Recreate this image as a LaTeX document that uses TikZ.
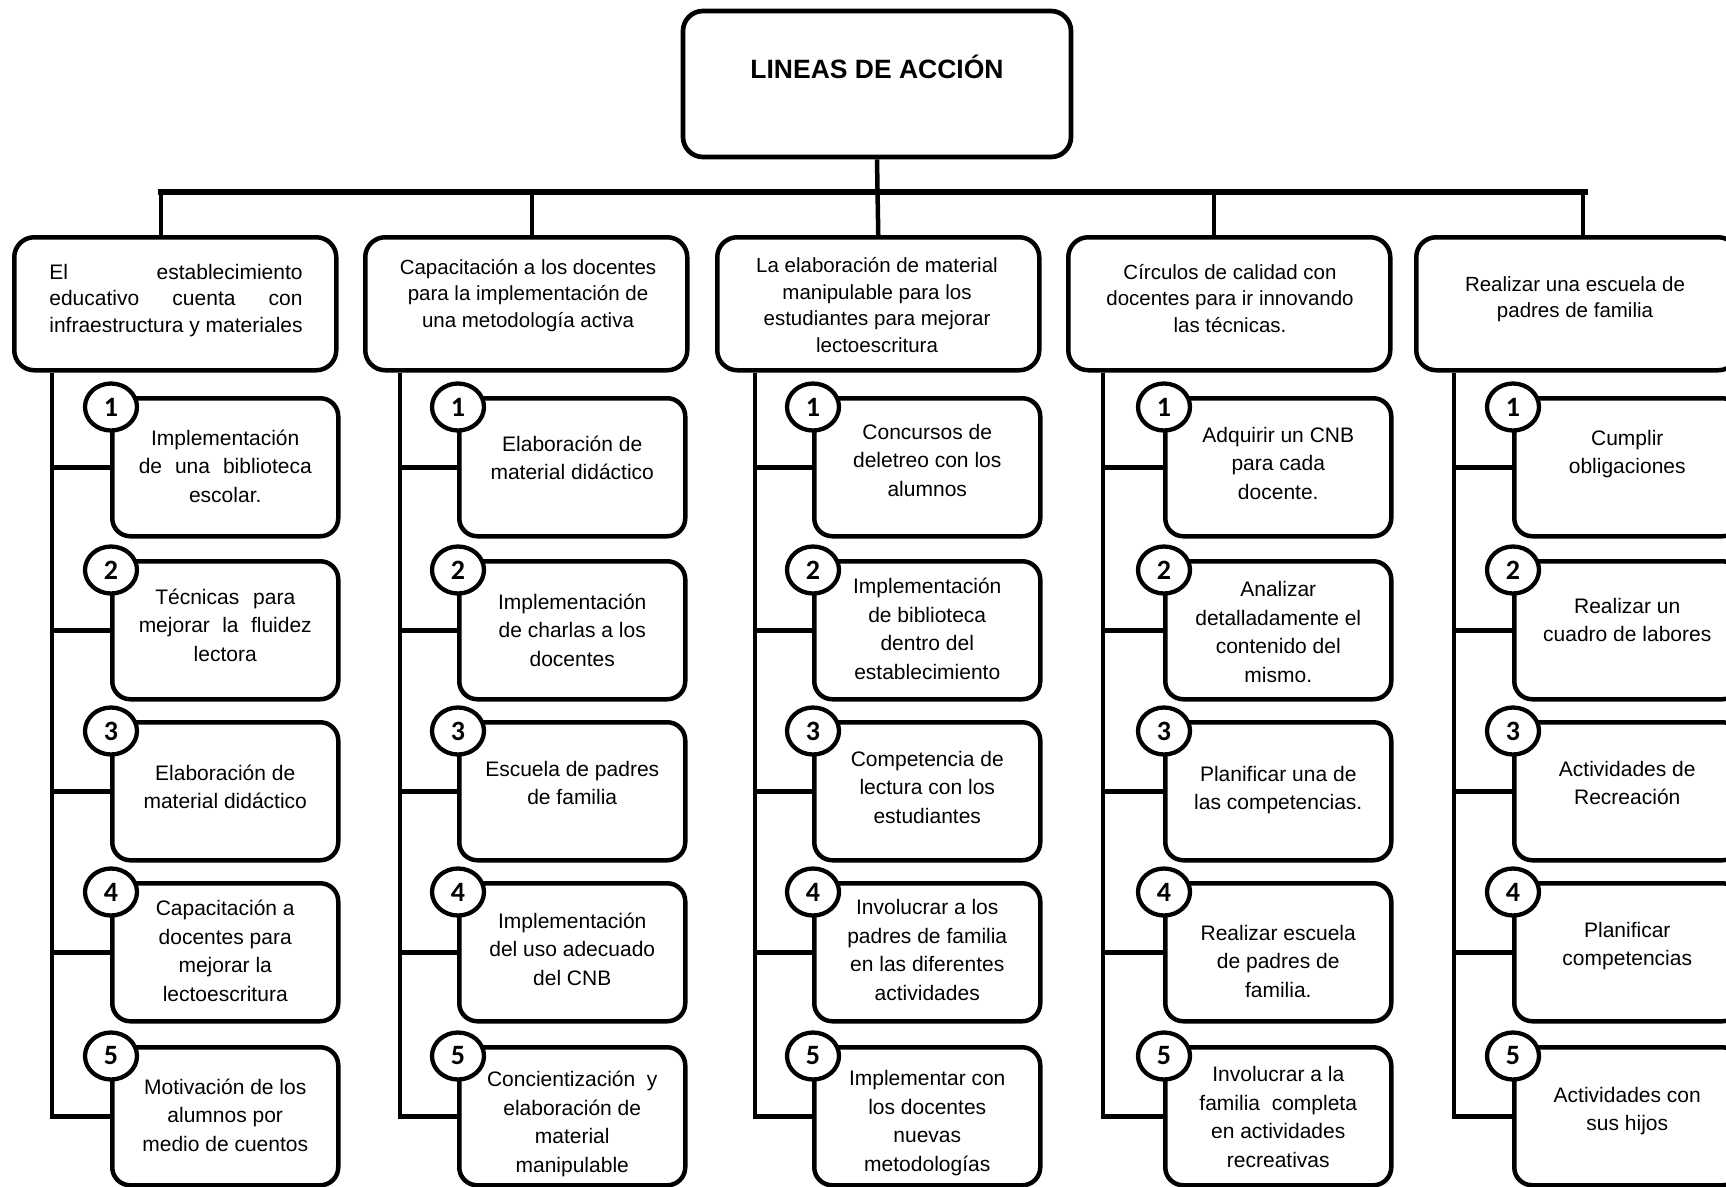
\documentclass[tikz,border=0pt]{standalone}
\usepackage{fontspec}
\setmainfont{Liberation Sans}
\newfontfamily\numfont{Carlito}
\usetikzlibrary{shapes.geometric,calc}
\newlength\hwa
\tikzset{
  conn/.style={line width=4.5pt},
  mainbar/.style={line width=6pt},
  childbox/.style={draw, line width=4.5pt, rounded corners=18pt, minimum width=226pt, minimum height=138pt, inner sep=0pt, anchor=north west},
  hdrbox/.style={draw, line width=4.5pt, rounded corners=20pt, minimum width=322pt, minimum height=133pt, inner sep=0pt, anchor=north west},
  topbox/.style={draw, line width=4.7pt, rounded corners=20pt, minimum width=388pt, minimum height=146pt, inner sep=0pt},
  numc/.style={draw, fill=white, ellipse, line width=4.3pt, minimum width=52pt, minimum height=47pt, inner sep=0pt, font=\numfont\bfseries\fontsize{28}{28}\selectfont},
  txt/.style={align=center, font=\fontsize{21}{28.5}\selectfont, inner sep=0pt, execute at begin node=\strut, execute at end node=\strut},
  htxt/.style={align=center, font=\fontsize{20.5}{26.5}\selectfont, inner sep=0pt, execute at begin node=\strut, execute at end node=\strut},
  ttl/.style={font=\bfseries\fontsize{26.5}{30}\selectfont, anchor=base, inner sep=0pt},
}
% #1 col, #2 row, #3 left x, #4 top y, #5 text dy, #6 text
\newcommand\mkchild[6]{%
  \node[childbox] (c#1#2) at (#3,#4) {};
  \node[numc] (n#1#2) at ($(c#1#2.north west)+(1,11)$) {#2};
  \node[txt] (t#1#2) at ($(c#1#2.center)+(0,#5)$) {#6};
}
\begin{document}
\settowidth{\hwa}{\fontsize{21}{26.5}\selectfont infraestructura y materiales}%
\begin{tikzpicture}[x=1pt,y=-1pt]
\path[use as bounding box] (0,0) rectangle (1726,1186);
\clip (0,0) rectangle (1726,1186);

% top
\node[topbox] (top) at (877,84) {};
\node[ttl] (title) at (877,78) {LINEAS DE ACCIÓN};

% bar
\coordinate (barL) at (158,192);
\coordinate (barR) at (1588,192);
\draw[mainbar] (barL) -- (barR);

% headers
\node[hdrbox] (h1) at (12,235) {};
\node[hdrbox] (h2) at (363,235) {};
\node[hdrbox] (h3) at (715,235) {};
\node[hdrbox] (h4) at (1066,235) {};
\node[hdrbox] (h5) at (1414,235) {};

\coordinate (d1) at (161,192);
\coordinate (d2) at (532,192);
\coordinate (d4) at (1214,192);
\coordinate (d5) at (1583,192);
\draw[conn] (d1) -- (d1 |- h1.north);
\draw[conn] (d2) -- (d2 |- h2.north);
\draw[conn] (top.south) -- (h3.north);
\draw[conn] (d4) -- (d4 |- h4.north);
\draw[conn] (d5) -- (d5 |- h5.north);

\node[htxt, font=\fontsize{21}{26.5}\selectfont] (ht1) at (176,302) {\makebox[\hwa][s]{El establecimiento}\\\makebox[\hwa][s]{educativo cuenta con}\\infraestructura y materiales};
\node[htxt] (ht2) at (528,297) {Capacitación a los docentes\\para la implementación de\\una metodología activa};
\node[htxt] (ht3) at (877,309) {La elaboración de material\\manipulable para los\\estudiantes para mejorar\\lectoescritura};
\node[htxt] (ht4) at (1230,302) {Círculos de calidad con\\docentes para ir innovando\\las técnicas.};
\node[htxt] (ht5) at (1575,301) {Realizar una escuela de\\padres de familia};

% trunks
\coordinate (tr1) at (52,0);
\coordinate (tr2) at (400,0);
\coordinate (tr3) at (755,0);
\coordinate (tr4) at (1103,0);
\coordinate (tr5) at (1454,0);

% column 1
\mkchild{1}{1}{110}{396}{3}{Implementación\\\makebox[173pt][s]{de una biblioteca}\\escolar.}
\mkchild{1}{2}{110}{559}{-1}{\makebox[140pt][s]{Técnicas para}\\\makebox[173pt][s]{mejorar la fluidez}\\lectora}
\mkchild{1}{3}{110}{720}{0}{Elaboración de\\material didáctico}
\mkchild{1}{4}{110}{881}{3}{Capacitación a\\docentes para\\mejorar la\\lectoescritura}
\mkchild{1}{5}{110}{1045}{3}{Motivación de los\\alumnos por\\medio de cuentos}
% column 2
\mkchild{2}{1}{457}{396}{-5}{Elaboración de\\material didáctico}
\mkchild{2}{2}{457}{559}{4}{Implementación\\de charlas a los\\docentes}
\mkchild{2}{3}{457}{720}{-4}{Escuela de padres\\de familia}
\mkchild{2}{4}{457}{881}{1}{Implementación\\del uso adecuado\\del CNB}
\mkchild{2}{5}{457}{1045}{10}{Concientización\ \ y\\elaboración de\\material\\manipulable}
% column 3
\mkchild{3}{1}{812}{396}{-3}{Concursos de\\deletreo con los\\alumnos}
\mkchild{3}{2}{812}{559}{3}{Implementación\\de biblioteca\\dentro del\\establecimiento}
\mkchild{3}{3}{812}{720}{0}{Competencia de\\lectura con los\\estudiantes}
\mkchild{3}{4}{812}{881}{2}{Involucrar a los\\padres de familia\\en las diferentes\\actividades}
\mkchild{3}{5}{812}{1045}{9}{Implementar con\\los docentes\\nuevas\\metodologías}
% column 4
\mkchild{4}{1}{1163}{396}{0}{Adquirir un CNB\\para cada\\docente.}
\mkchild{4}{2}{1163}{559}{6}{Analizar\\detalladamente el\\contenido del\\mismo.}
\mkchild{4}{3}{1163}{720}{1}{Planificar una de\\las competencias.}
\mkchild{4}{4}{1163}{881}{13}{Realizar escuela\\de padres de\\familia.}
\mkchild{4}{5}{1163}{1045}{5}{Involucrar a la\\familia\ \ completa\\en actividades\\recreativas}
% column 5
\mkchild{5}{1}{1512}{396}{-11}{Cumplir\\obligaciones}
\mkchild{5}{2}{1512}{559}{-6}{Realizar un\\cuadro de labores}
\mkchild{5}{3}{1512}{720}{-4}{Actividades de\\Recreación}
\mkchild{5}{4}{1512}{881}{-4}{Planificar\\competencias}
\mkchild{5}{5}{1512}{1045}{-3}{Actividades con\\sus hijos}

% trunks and branches
\foreach \c/\h in {1/h1,2/h2,3/h3,4/h4,5/h5}{
  \draw[conn] (\h.south -| tr\c) |- (c\c5.west);
  \foreach \r in {1,2,3,4}{
    \draw[conn] (c\c\r.west) -- (c\c\r.west -| tr\c);
  }
}
\end{tikzpicture}
\end{document}
